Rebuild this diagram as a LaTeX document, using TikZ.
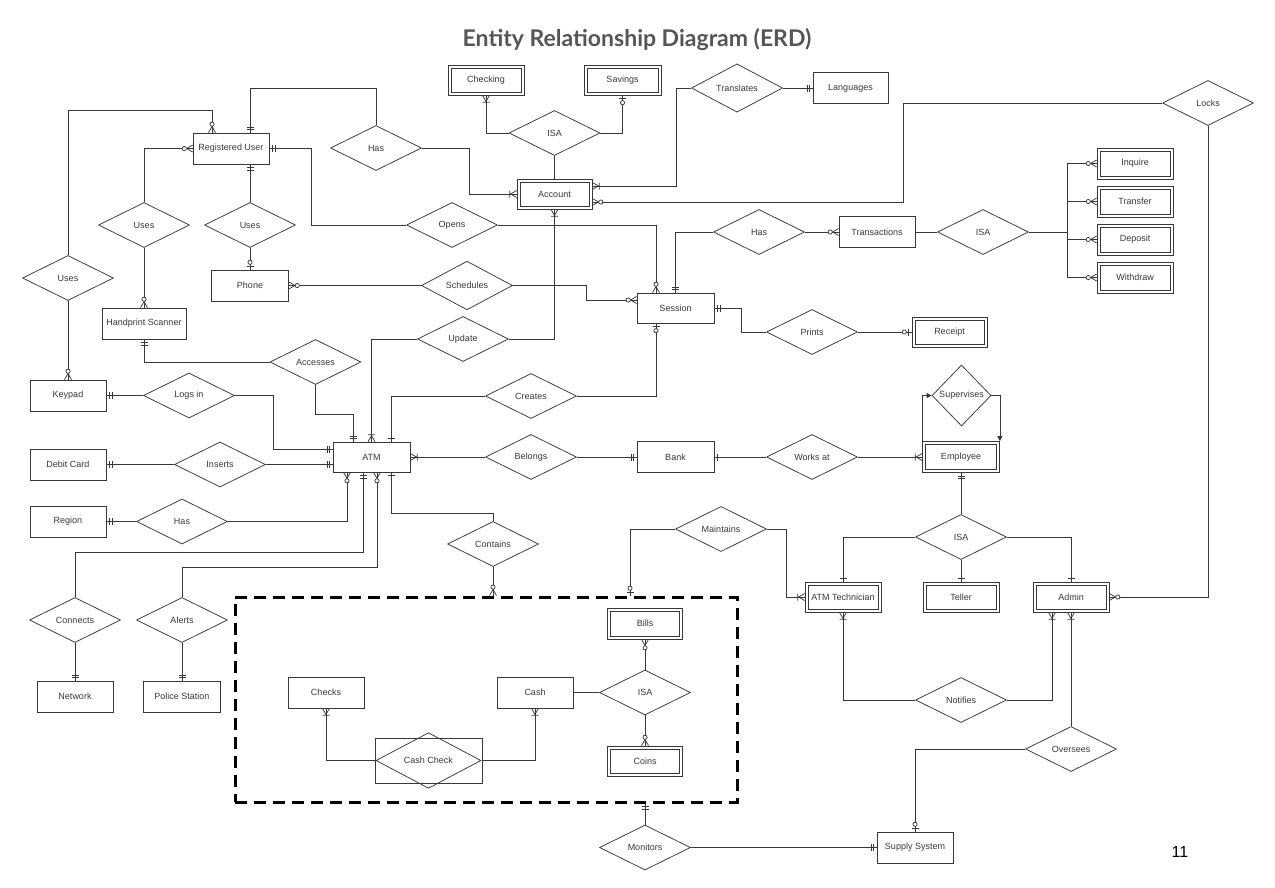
\documentclass[tikz,border=0pt]{standalone}
\usepackage{fontspec}
\setmainfont{Liberation Sans}
\newfontfamily\titlefont{Lato}
\usetikzlibrary{shapes.geometric,arrows.meta,calc}
\definecolor{ink}{HTML}{383838}
\definecolor{titlegray}{HTML}{555555}

\newcommand\erbar[1]{\pgfpathmoveto{\pgfqpoint{#1}{3.5pt}}\pgfpathlineto{\pgfqpoint{#1}{-3.5pt}}}
\newcommand\ercrow{\pgfpathmoveto{\pgfqpoint{0pt}{3.5pt}}\pgfpathlineto{\pgfqpoint{-6pt}{0pt}}\pgfpathlineto{\pgfqpoint{0pt}{-3.5pt}}}
\newcommand\ercirc[1]{\pgfpathcircle{\pgfqpoint{#1}{0pt}}{2.1pt}\pgfsetfillcolor{white}\pgfusepathqfillstroke}

\pgfdeclarearrow{
  name=erZM,
  setup code={\pgfarrowssettipend{0pt}\pgfarrowssetlineend{0pt}\pgfarrowssetbackend{-11pt}
    \pgfarrowshullpoint{0pt}{3.5pt}\pgfarrowshullpoint{0pt}{-3.5pt}
    \pgfarrowshullpoint{-11pt}{2.5pt}\pgfarrowshullpoint{-11pt}{-2.5pt}},
  drawing code={\ercrow\pgfusepathqstroke\ercirc{-8.4pt}}
}
\pgfdeclarearrow{
  name=erOM,
  setup code={\pgfarrowssettipend{0pt}\pgfarrowssetlineend{0pt}\pgfarrowssetbackend{-7pt}
    \pgfarrowshullpoint{0pt}{3.5pt}\pgfarrowshullpoint{0pt}{-3.5pt}
    \pgfarrowshullpoint{-7pt}{3.5pt}\pgfarrowshullpoint{-7pt}{-3.5pt}},
  drawing code={\ercrow\erbar{-6.8pt}\pgfusepathqstroke}
}
\pgfdeclarearrow{
  name=erOO,
  setup code={\pgfarrowssettipend{0pt}\pgfarrowssetlineend{0pt}\pgfarrowssetbackend{-6pt}
    \pgfarrowshullpoint{-2pt}{3.5pt}\pgfarrowshullpoint{-2pt}{-3.5pt}
    \pgfarrowshullpoint{-6pt}{3.5pt}\pgfarrowshullpoint{-6pt}{-3.5pt}},
  drawing code={\erbar{-3pt}\erbar{-5.5pt}\pgfusepathqstroke}
}
\pgfdeclarearrow{
  name=erZO,
  setup code={\pgfarrowssettipend{0pt}\pgfarrowssetlineend{0pt}\pgfarrowssetbackend{-10pt}
    \pgfarrowshullpoint{-2pt}{3.5pt}\pgfarrowshullpoint{-2pt}{-3.5pt}
    \pgfarrowshullpoint{-10pt}{2.5pt}\pgfarrowshullpoint{-10pt}{-2.5pt}},
  drawing code={\erbar{-3pt}\pgfusepathqstroke\ercirc{-7.3pt}}
}
\pgfdeclarearrow{
  name=erOne,
  setup code={\pgfarrowssettipend{0pt}\pgfarrowssetlineend{0pt}\pgfarrowssetbackend{-4pt}
    \pgfarrowshullpoint{-2pt}{3.5pt}\pgfarrowshullpoint{-2pt}{-3.5pt}
    \pgfarrowshullpoint{-4pt}{3.5pt}\pgfarrowshullpoint{-4pt}{-3.5pt}},
  drawing code={\erbar{-3pt}\pgfusepathqstroke}
}

\tikzset{
  base/.style={font=\fontsize{9}{10}\selectfont, text=ink, draw=ink, line width=0.75pt, inner sep=0pt},
  ent/.style={base, rectangle, minimum width=76pt, minimum height=31pt},
  went/.style={base, rectangle, minimum width=76pt, minimum height=30pt},
  rel/.style={base, diamond, aspect=1, minimum width=91pt, minimum height=45pt},
  lk/.style={draw=ink, line width=0.75pt},
  inner/.style={draw=ink, line width=0.7pt},
  grpbox/.style={draw=black, line width=3pt, dash pattern=on 12pt off 7pt, minimum width=502pt,
    minimum height=205pt, inner sep=0pt, outer sep=1.5pt},
  tri/.style={-{Triangle[length=5pt,width=5pt]}}
}

\begin{document}
\begin{tikzpicture}[x=1pt,y=-1pt]
\useasboundingbox (0,0) rectangle (1275,887);

% title and page number
\node[font=\titlefont\bfseries\fontsize{23}{27}\selectfont, text=titlegray] (title) at (637,40) {Entity Relationship Diagram (ERD)};
\node[font=\fontsize{16}{19}\selectfont, text=black] (pg) at (1180,852) {11};

% group box
\node[grpbox] (grp) at (486,699.5) {};

% entities
\node[ent] (ru) at (231,148.5) {Registered User};
\node[ent, minimum width=77pt] (phone) at (250,285.5) {Phone};
\node[ent, minimum width=84pt] (hs) at (144,323.5) {Handprint Scanner};
\node[ent] (keypad) at (68,395.5) {Keypad};
\node[ent] (debit) at (68,464.5) {Debit Card};
\node[ent] (region) at (68,521.5) {Region};
\node[ent] (network) at (75,696.5) {Network};
\node[ent, minimum width=77pt] (police) at (182,696.5) {Police Station};
\node[ent, minimum width=77pt, minimum height=30pt] (atm) at (371.5,457) {ATM};
\node[ent, minimum width=77pt] (bank) at (675.5,457) {Bank};
\node[ent, minimum width=77pt, minimum height=30pt] (session) at (675.5,308) {Session};
\node[ent, minimum width=75pt] (languages) at (850.5,88) {Languages};
\node[ent] (transactions) at (877,232) {Transactions};
\node[ent] (supply) at (915,847.5) {Supply System};
\node[ent] (checks) at (326,692.5) {Checks};
\node[ent] (cash) at (535,692.5) {Cash};
\node[ent, minimum width=107pt, minimum height=45pt] (ccr) at (428.5,760.5) {};
\node[rel, minimum width=105pt] (ccd) at (428.5,760.5) {Cash Check};

% weak entities
\node[went, minimum width=75pt] (account) at (554.5,194) {Account};
\node[went] (checking) at (486,80) {Checking};
\node[went, minimum width=77pt] (savings) at (622.5,80) {Savings};
\node[went, minimum height=31pt] (inquire) at (1135,163.5) {Inquire};
\node[went, minimum height=31pt] (transfer) at (1135,201.5) {Transfer};
\node[went, minimum height=31pt] (deposit) at (1135,239.5) {Deposit};
\node[went, minimum height=31pt] (withdraw) at (1135,277.5) {Withdraw};
\node[went, minimum width=75pt] (receipt) at (949.5,332) {Receipt};
\node[went, minimum width=77pt, minimum height=31pt] (employee) at (961,457) {Employee};
\node[went] (tech) at (843,597) {ATM Technician};
\node[went] (teller) at (961,597) {Teller};
\node[went] (admin) at (1071,597) {Admin};
\node[went, minimum width=75pt, minimum height=31pt] (bills) at (645,623.5) {Bills};
\node[went, minimum width=75pt] (coins) at (645,761) {Coins};
\foreach \nm in {account,checking,savings,inquire,transfer,deposit,withdraw,receipt,employee,tech,teller,admin,bills,coins}
  \draw[inner] ([shift={(3.3pt,3.3pt)}]\nm.south west) rectangle ([shift={(-3.3pt,-3.3pt)}]\nm.north east);

% relationships
\node[rel] (hasA) at (376,148) {Has};
\node[rel] (isaA) at (554.5,133) {ISA};
\node[rel] (translates) at (737,88) {Translates};
\node[rel] (locks) at (1208,103) {Locks};
\node[rel] (usesHS) at (144,225) {Uses};
\node[rel] (usesPh) at (250,225) {Uses};
\node[rel] (usesKP) at (68,278) {Uses};
\node[rel] (opens) at (452,225) {Opens};
\node[rel] (hasT) at (759,232) {Has};
\node[rel] (isaT) at (983,232) {ISA};
\node[rel] (schedules) at (467,285.5) {Schedules};
\node[rel] (update) at (463,339) {Update};
\node[rel] (accesses) at (315.5,362) {Accesses};
\node[rel] (prints) at (812,332) {Prints};
\node[rel] (logsin) at (189,395.5) {Logs in};
\node[rel] (creates) at (531,396) {Creates};
\node[rel, minimum width=59pt, minimum height=61pt] (supervises) at (961.5,395.5) {Supervises};
\node[rel] (inserts) at (220,464.5) {Inserts};
\node[rel] (belongs) at (531,457) {Belongs};
\node[rel] (worksat) at (812,457) {Works at};
\node[rel] (hasR) at (182,521.5) {Has};
\node[rel] (contains) at (493,544) {Contains};
\node[rel] (maintains) at (721,529) {Maintains};
\node[rel] (isaE) at (961,537) {ISA};
\node[rel] (connects) at (75,620) {Connects};
\node[rel] (alerts) at (182,620) {Alerts};
\node[rel] (isaC) at (645,692.5) {ISA};
\node[rel] (notifies) at (961,700) {Notifies};
\node[rel] (oversees) at (1071,749) {Oversees};
\node[rel] (monitors) at (645,847.5) {Monitors};

% connectors
\draw[lk,-erOO] (hasA.north) -- ++(0,-37) -| ([xshift=19]ru.north);
\draw[lk,-erOM] (hasA.east) -- ++(47.5,0) |- (account.west);
\draw[lk] (isaA.south) -- (account.north);
\draw[lk,-erOM] (isaA.west) -| (checking.south);
\draw[lk,-erZO] (isaA.east) -| (savings.south);
\draw[lk,-erOO] (translates.east) -- (languages.west);
\draw[lk,-erOM] (translates.west) -- ++(-15,0) |- ([yshift=8]account.east);
\draw[lk,-erZM] (locks.west) -- ++(-258.5,0) |- ([yshift=-8]account.east);
\draw[lk,-erZM] (locks.south) |- (admin.east);

\draw[lk,erZM-] ([xshift=-19]ru.north) -- ++(0,-22) -| (usesKP.north);
\draw[lk,-erZM] (usesKP.south) -- (keypad.north);
\draw[lk,-erZM] (usesHS.north) |- (ru.west);
\draw[lk,-erZM] (usesHS.south) -- (hs.north);
\draw[lk,-erOO] (usesPh.north) -- ([xshift=19]ru.south);
\draw[lk,-erZO] (usesPh.south) -- (phone.north);
\draw[lk,erOO-] (ru.east) -- ++(42,0) |- (opens.west);
\draw[lk,-erZM] (opens.east) -| ([xshift=-19.5]session.north);

\draw[lk,-erOO] (hasT.west) -| (session.north);
\draw[lk,-erZM] (hasT.east) -- (transactions.west);
\draw[lk] (transactions.east) -- (isaT.west);
\foreach \nm in {inquire,transfer,deposit,withdraw}
  \draw[lk,-erZM] (isaT.east) -- ++(38.5,0) |- (\nm.west);

\draw[lk,-erZM] (schedules.west) -- (phone.east);
\draw[lk,-erZM] (schedules.east) -- ++(73,0) |- ([yshift=8]session.west);
\draw[lk,-erOM] (update.east) -| (account.south);
\draw[lk,-erOM] (update.west) -| (atm.north);
\draw[lk,-erOO] (accesses.south) -- ++(0,29) -| ([xshift=-18.5]atm.north);
\draw[lk,-erOO] (accesses.west) -| (hs.south);
\draw[lk,-erOne] (creates.west) -| ([xshift=19.5]atm.north);
\draw[lk,-erZO] (creates.east) -| ([xshift=-19.5]session.south);
\draw[lk,erOO-] (session.east) -- ++(27,0) |- (prints.west);
\draw[lk,-erZO] (prints.east) -- (receipt.west);

\draw[lk,-erOO] (logsin.west) -- (keypad.east);
\draw[lk,-erOO] (logsin.east) -- ++(38.5,0) |- ([yshift=8]atm.west);
\draw[lk,-erOO] (inserts.west) -- (debit.east);
\draw[lk,-erOO] (inserts.east) -- ([yshift=-7.5]atm.west);
\draw[lk,-erOO] (hasR.west) -- (region.east);
\draw[lk,-erZM] (hasR.east) -| ([xshift=-24.5]atm.south);
\draw[lk,erOO-] ([xshift=-8.5]atm.south) -- ++(0,80) -| (connects.north);
\draw[lk,-erOO] (connects.south) -- (network.north);
\draw[lk,erZM-] ([xshift=5.5]atm.south) -- ++(0,95) -| (alerts.north);
\draw[lk,-erOO] (alerts.south) -- (police.north);
\draw[lk,erOne-] ([xshift=19.5]atm.south) -- ++(0,41) -| (contains.north);
\draw[lk,-erZM] (contains.south) -- (contains.south |- grp.north);

\draw[lk,-erOM] (belongs.west) -- (atm.east);
\draw[lk,-erOO] (belongs.east) -- (bank.west);
\draw[lk,erOne-] (bank.east) -- (worksat.west);
\draw[lk,-erOM] (worksat.east) -- (employee.west);
\draw[lk,tri] (employee.north west) |- (supervises.west);
\draw[lk,tri] (supervises.east) -| (employee.north east);
\draw[lk,-erOO] (isaE.north) -- (employee.south);
\draw[lk,-erOne] (isaE.west) -| (tech.north);
\draw[lk,-erOne] (isaE.south) -- (teller.north);
\draw[lk,-erOne] (isaE.east) -| (admin.north);

\draw[lk,-erZO] (maintains.west) -| ([xshift=144]grp.north);
\draw[lk,-erOM] (maintains.east) -- ++(19,0) |- (tech.west);
\draw[lk,-erOM] (notifies.west) -| (tech.south);
\draw[lk,-erOM] (notifies.east) -| ([xshift=-19]admin.south);
\draw[lk,-erOM] (oversees.north) -- (admin.south);
\draw[lk,-erZO] (oversees.west) -| (supply.north);
\draw[lk,-erOO] (monitors.north) -- (monitors.north |- grp.south);
\draw[lk,-erOO] (monitors.east) -- (supply.west);

\draw[lk,-erOM] (ccr.west) -| (checks.south);
\draw[lk,-erOM] (ccr.east) -| (cash.south);
\draw[lk] (cash.east) -- (isaC.west);
\draw[lk,-erZM] (isaC.north) -- (bills.south);
\draw[lk,-erZM] (isaC.south) -- (coins.north);
\end{tikzpicture}
\end{document}
